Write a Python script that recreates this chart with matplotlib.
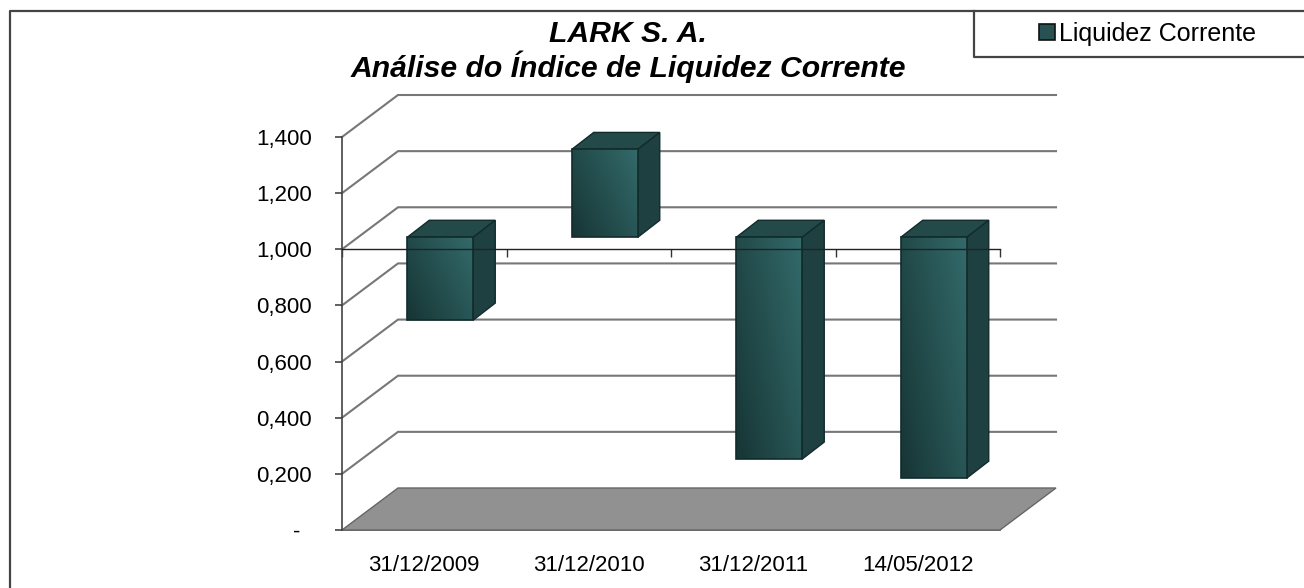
import numpy as np
import matplotlib
matplotlib.use("Agg")
import matplotlib.pyplot as plt
from matplotlib.patches import Polygon, Rectangle, Patch
from matplotlib.lines import Line2D

categories = ["31/12/2009", "31/12/2010", "31/12/2011", "14/05/2012"]
values = [0.705, 1.313, 0.21, 0.142]
y_ticks = [0, 0.2, 0.4, 0.6, 0.8, 1.0, 1.2, 1.4]
y_labels = ["-  ", "0,200", "0,400", "0,600", "0,800", "1,000", "1,200", "1,400"]
series_name = "Liquidez Corrente"
title = "LARK S. A.\nAnálise do Índice de Liquidez Corrente"
axis_crossing = 1.0

plt.rcParams["font.family"] = ["Liberation Sans", "DejaVu Sans"]
W, H = 1304, 588
fig = plt.figure(figsize=(W / 100, H / 100), dpi=100, facecolor="white")
L, R, T, B = 342, 1000, 137, 530
ax = fig.add_axes([L / W, 1 - B / H, (R - L) / W, (B - T) / H])
ax.set_facecolor("none")

px_x = len(categories) / (R - L)
px_y = 1.4 / (B - T)
wall_dx, wall_dy = 56 * px_x, 42 * px_y
front_dx, front_dy = 16 * px_x, 12 * px_y
bar_dx, bar_dy = 22 * px_x, 17 * px_y
bar_w = 66 * px_x
n = len(categories)
GRID = "#777777"

# floor
ax.add_patch(Polygon([(0, 0), (wall_dx, wall_dy), (n + wall_dx, wall_dy), (n, 0)],
                     closed=True, facecolor="#919191", edgecolor="#666666", lw=1,
                     clip_on=False, zorder=1))
# walls
for v in y_ticks[1:]:
    ax.plot([0, wall_dx, n + wall_dx], [v, v + wall_dy, v + wall_dy], color=GRID, lw=1.5,
            clip_on=False, zorder=1, solid_joinstyle="miter")

# bars
grad_x, grad_y = np.meshgrid(np.linspace(0, 1, 64), np.linspace(0, 1, 64))
grad = 0.62 * grad_x + 0.38 * grad_y
cmap = matplotlib.colors.LinearSegmentedColormap.from_list("b", ["#173535", "#336a6a"])
for i, v in enumerate(values):
    lo, hi = min(v, axis_crossing), max(v, axis_crossing)
    x0 = i + 0.5 + front_dx - bar_w / 2
    x1 = x0 + bar_w
    y0, y1 = lo + front_dy, hi + front_dy
    ax.add_patch(Polygon([(x0, y1), (x0 + bar_dx, y1 + bar_dy), (x1 + bar_dx, y1 + bar_dy), (x1, y1)],
                         closed=True, facecolor="#234949", edgecolor="#122b2b", lw=1, zorder=2,
                         clip_on=False))
    ax.add_patch(Polygon([(x1, y0), (x1 + bar_dx, y0 + bar_dy), (x1 + bar_dx, y1 + bar_dy), (x1, y1)],
                         closed=True, facecolor="#1f4040", edgecolor="#122b2b", lw=1, zorder=2,
                         clip_on=False))
    ax.imshow(grad, origin="lower", extent=[x0, x1, y0, y1], aspect="auto", cmap=cmap,
              zorder=2, interpolation="bilinear", clip_on=False)
    ax.add_patch(Rectangle((x0, y0), bar_w, y1 - y0, facecolor="none", edgecolor="#122b2b",
                           lw=1.2, zorder=2.1, clip_on=False))

ax.set_xlim(0, n)
ax.set_ylim(0, 1.4)

# axes
for s in ("top", "right"):
    ax.spines[s].set_visible(False)
ax.spines["left"].set_color("#444444")
ax.spines["left"].set_linewidth(1.2)
ax.spines["bottom"].set_position(("data", axis_crossing))
ax.spines["bottom"].set_color("#222222")
ax.spines["bottom"].set_linewidth(1.0)
ax.spines["bottom"].set_zorder(3)
ax.set_yticks(y_ticks, y_labels)
ax.tick_params(axis="y", length=5, width=1.2, color="#444444", pad=16.5, labelsize=16, labelcolor="black")
ax.set_xticks(np.arange(n + 1), [""] * (n + 1))
ax.tick_params(axis="x", length=6, width=1.0, color="#333333", direction="out")

sec = ax.secondary_xaxis(0)
sec.set_xticks(np.arange(n) + 0.5, categories)
sec.tick_params(axis="x", length=0, pad=18, labelsize=16, labelcolor="black")
sec.spines["bottom"].set_color("#555555")
sec.spines["bottom"].set_linewidth(1.2)

ax.set_title(title, x=(628 - L) / (R - L), y=1.0, pad=43, fontsize=21.7, fontweight="bold",
             fontstyle="italic", color="black", linespacing=1.1)

# chart area border and legend box
BORDER = "#444444"
fig.add_artist(Line2D([10 / W, 10 / W, 1], [0, 1 - 11 / H, 1 - 11 / H], color=BORDER, lw=1.6))
fig.add_artist(Line2D([1, 974 / W, 974 / W], [1 - 57 / H, 1 - 57 / H, 1 - 11 / H], color=BORDER, lw=1.6))
fig.legend(handles=[Patch(facecolor="#285252", edgecolor="#111111", lw=1.2, label=series_name)],
           loc="center left", bbox_to_anchor=(1039 / W, 1 - 34 / H), frameon=False, borderpad=0,
           borderaxespad=0, handlelength=0.64, handleheight=0.64, handletextpad=0.15, fontsize=18,
           labelcolor="black")

fig.savefig("out.png", dpi=100)
